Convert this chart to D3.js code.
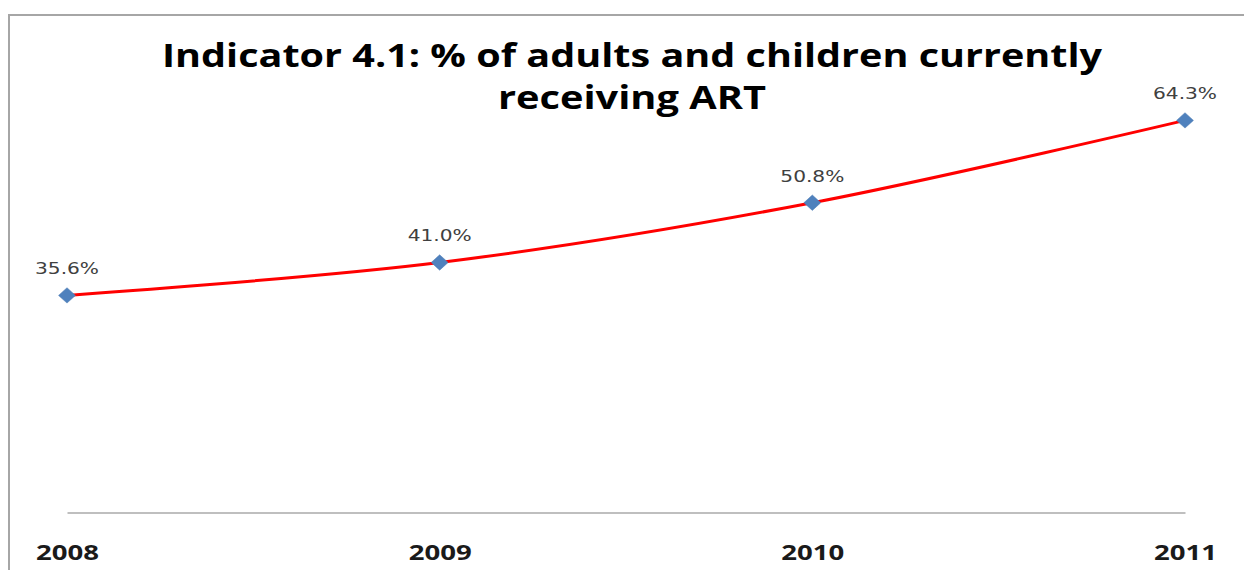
<!DOCTYPE html>
<html>
<head>
<meta charset="utf-8">
<script src="https://cdn.jsdelivr.net/npm/d3@7/dist/d3.min.js"></script>
<style>
  html, body { margin: 0; padding: 0; background: #fff; }
  svg { display: block; }
</style>
</head>
<body>
<svg id="chart" width="1244" height="570"></svg>
<script>
const years = ["2008", "2009", "2010", "2011"];
const values = [35.6, 41.0, 50.8, 64.3];
const valueLabels = ["35.6%", "41.0%", "50.8%", "64.3%"];
const titleLines = ["Indicator 4.1: % of adults and children currently", "receiving ART"];
const yDomain = [0, 80];

const svg = d3.select("#chart");

// outer chart border (extends past the right/bottom edges)
svg.append("rect")
  .attr("x", 9).attr("y", 15)
  .attr("width", 1260).attr("height", 600)
  .attr("fill", "#fff")
  .attr("stroke", "#a6a6a6")
  .attr("stroke-width", 2);

const x = d3.scalePoint().domain(years).range([67, 1185]);
const y = d3.scaleLinear().domain(yDomain).range([512.5, 512.5 - 80 * 6.098]);

// title
const tW = [940, 268];
const tY = [67, 109];
titleLines.forEach((t, i) => {
  svg.append("text")
    .attr("x", 632).attr("y", tY[i])
    .attr("text-anchor", "middle")
    .attr("font-family", "'Open Sans', 'DejaVu Sans', sans-serif")
    .attr("font-weight", 700)
    .attr("font-size", 33)
    .attr("fill", "#000")
    .attr("textLength", tW[i])
    .attr("lengthAdjust", "spacingAndGlyphs")
    .text(t);
});

// category axis
const xAxis = d3.axisBottom(x).tickSize(0).tickPadding(0);
const gx = svg.append("g").attr("transform", `translate(0,${y(0)})`).call(xAxis);
gx.select(".domain").attr("stroke", "#bfbfbf").attr("stroke-width", 2);
gx.selectAll(".tick text")
  .attr("y", 47.5).attr("dy", null)
  .attr("font-family", "'Open Sans', 'DejaVu Sans', sans-serif")
  .attr("font-weight", 700)
  .attr("font-size", 22)
  .attr("fill", "#1a1a1a")
  .attr("textLength", 63)
  .attr("lengthAdjust", "spacingAndGlyphs");

const data = years.map((yr, i) => ({ yr, v: values[i], label: valueLabels[i] }));

// smoothed line
const line = d3.line()
  .x(d => x(d.yr))
  .y(d => y(d.v))
  .curve(d3.curveCardinal.tension(0));
svg.append("path")
  .datum(data)
  .attr("d", line)
  .attr("fill", "none")
  .attr("stroke", "#ff0000")
  .attr("stroke-width", 3);

// diamond markers
const diamond = d3.symbol().type(d3.symbolDiamond2).size(150);
svg.selectAll(".marker")
  .data(data).enter().append("path")
  .attr("class", "marker")
  .attr("transform", d => `translate(${x(d.yr)},${y(d.v)}) scale(1.1,1)`)
  .attr("d", diamond)
  .attr("fill", "#4f81bd")
  .attr("stroke", "#4a7ab5")
  .attr("stroke-width", 0.5);

// data labels
svg.selectAll(".dlabel")
  .data(data).enter().append("text")
  .attr("class", "dlabel")
  .attr("x", d => x(d.yr))
  .attr("y", d => y(d.v) - 21)
  .attr("text-anchor", "middle")
  .attr("font-family", "'DejaVu Sans', sans-serif")
  .attr("font-size", 16)
  .attr("fill", "#404040")
  .attr("textLength", 64)
  .attr("lengthAdjust", "spacingAndGlyphs")
  .text(d => d.label);
</script>
</body>
</html>
